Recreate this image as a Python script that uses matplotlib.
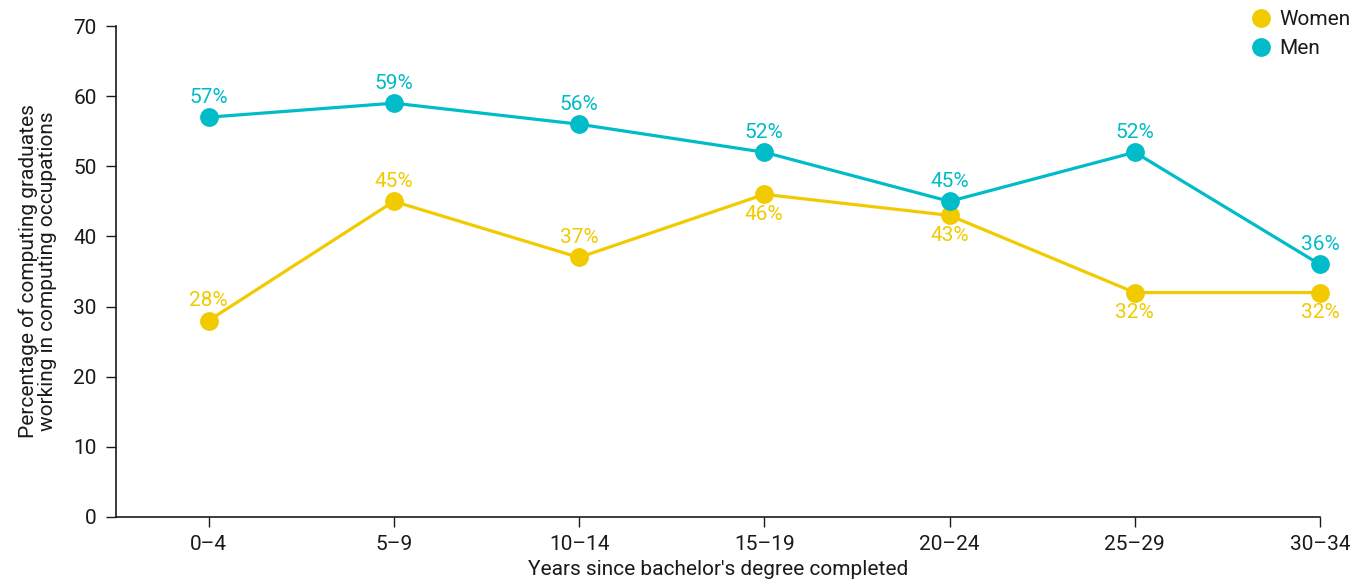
import matplotlib
matplotlib.use("Agg")
import matplotlib.pyplot as plt

plt.rcParams['font.family'] = ['Roboto', 'DejaVu Sans']

categories = ["0–4", "5–9", "10–14", "15–19", "20–24", "25–29", "30–34"]
women = [28, 45, 37, 46, 43, 32, 32]
men = [57, 59, 56, 52, 45, 52, 36]
women_label_pos = ["above", "above", "above", "below", "below", "below", "below"]

yellow = "#F2CA00"
teal = "#00BCC8"
ink = "#1a1a1a"
fs = 15

fig = plt.figure(figsize=(13.56, 5.79), dpi=100)
ax = fig.add_axes([116/1356, 1-517/579, (1320-116)/1356, (517-26)/579])

x = list(range(len(categories)))
ax.plot(x, women, color=yellow, lw=2.3, marker='o', ms=12.5, label="Women", zorder=3, clip_on=False)
ax.plot(x, men, color=teal, lw=2.3, marker='o', ms=12.5, label="Men", zorder=3, clip_on=False)

for xi, v in zip(x, men):
    ax.annotate(f"{v}%", (xi, v), xytext=(0, 7.5), textcoords='offset points',
                ha='center', va='bottom', color=teal, fontsize=fs)
for xi, v, pos in zip(x, women, women_label_pos):
    if pos == "above":
        ax.annotate(f"{v}%", (xi, v), xytext=(0, 7.5), textcoords='offset points',
                    ha='center', va='bottom', color=yellow, fontsize=fs)
    else:
        ax.annotate(f"{v}%", (xi, v), xytext=(0, -7.5), textcoords='offset points',
                    ha='center', va='top', color=yellow, fontsize=fs)

ax.set_xlim(-0.5, 6)
ax.set_ylim(0, 70)
ax.set_yticks(range(0, 71, 10))
ax.set_xticks(x)
ax.set_xticklabels(categories)
ax.tick_params(axis='both', labelsize=fs, color=ink, labelcolor=ink, length=7, width=1)
ax.tick_params(axis='y', pad=7)
ax.tick_params(axis='x', pad=6)
for s in ['top', 'right']:
    ax.spines[s].set_visible(False)
for s in ['left', 'bottom']:
    ax.spines[s].set_color(ink)
    ax.spines[s].set_linewidth(1.2)

ax.set_ylabel("Percentage of computing graduates\nworking in computing occupations",
              fontsize=fs, color=ink, labelpad=12, linespacing=1.0)
ax.set_xlabel("Years since bachelor's degree completed", fontsize=fs, color=ink,
              labelpad=4)

leg = fig.legend(handles=ax.get_lines(), loc='upper right', bbox_to_anchor=(1.01, 1.015),
                 frameon=False, fontsize=fs, handlelength=0.6, handletextpad=0.6,
                 labelspacing=0.5, markerscale=1.0)
for h in leg.legend_handles:
    h.set_linestyle('')
for t in leg.get_texts():
    t.set_color(ink)

fig.savefig("out.png", dpi=100)
